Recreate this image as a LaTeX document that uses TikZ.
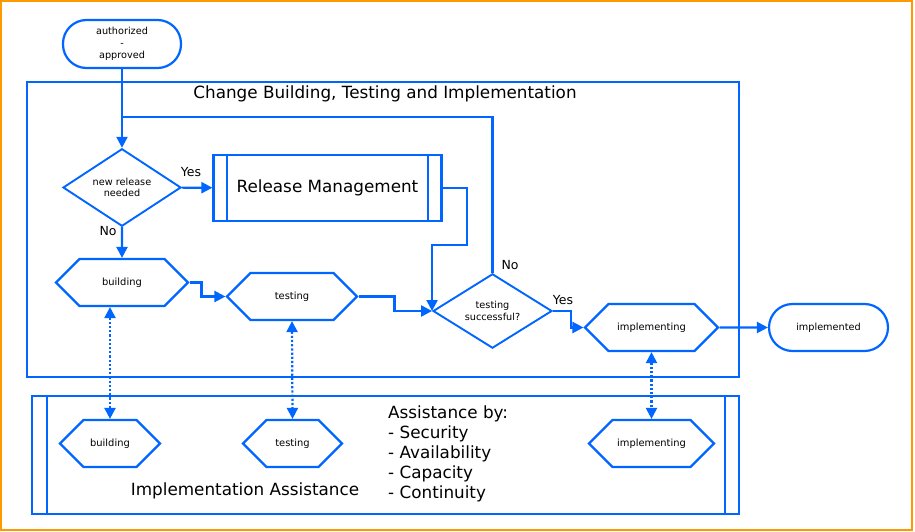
\documentclass[tikz,border=0pt]{standalone}
\usepackage{fontspec}
\setmainfont{DejaVu Sans}
\usetikzlibrary{shapes.geometric, shapes.symbols, positioning, arrows.meta}
\definecolor{FlowBlue}{RGB}{0, 102, 255}
\definecolor{FrameOrange}{RGB}{255, 153, 0}

\tikzset{
  flow/.style={draw=FlowBlue, line width=2.2pt},
  arr/.style={flow, -{Triangle[length=11pt, width=11pt]}},
  assist/.style={flow, dotted, {Triangle[length=11pt, width=11pt]}-{Triangle[length=11pt, width=11pt]}},
  terminal/.style={flow, rectangle, rounded corners=23.5pt, minimum width=118pt, minimum height=48pt,
    inner sep=0pt, align=center, font=\fontsize{9.7}{12}\selectfont},
  decision/.style={flow, line width=1.9pt, diamond, minimum width=118pt, minimum height=69pt,
    inner sep=0pt, align=center, font=\fontsize{9.7}{11.5}\selectfont},
  activity/.style={flow, signal, signal to=east and west, signal pointer angle=90,
    minimum height=47pt, inner sep=0pt, font=\fontsize{9.9}{12}\selectfont},
  answer/.style={font=\fontsize{12.5}{14}\selectfont},
  heading/.style={font=\fontsize{16.8}{20}\selectfont}
}

\begin{document}
\begin{tikzpicture}[x=1pt, y=-1pt]
    \useasboundingbox (0,0) rectangle (915,532);
    \draw[FrameOrange, line width=2pt] (1,1) rectangle (912,530);

    % Rahmen
    \draw[flow] (27,82) rectangle (739,377);
    \node[heading] (title) at (385,94) {Change Building, Testing and Implementation};

    % Start
    \node[terminal] (start) at (122,44) {authorized\\-\\approved};
    \node[decision] (dn) at (122,187.5) {new release\\needed};
    \node[flow, rectangle, minimum width=228pt, minimum height=66pt, heading] (rm) at (327.5,188) {Release Management};
    \draw[flow] ([xshift=14.5pt]rm.north west) -- ([xshift=14.5pt]rm.south west);
    \draw[flow] ([xshift=-14.5pt]rm.north east) -- ([xshift=-14.5pt]rm.south east);

    % Ablauf
    \node[activity, minimum width=132pt] (bld) at (122,282.5) {building};
    \node[activity, minimum width=130pt] (tst) at (292,296.5) {testing};
    \node[decision, minimum width=119pt, minimum height=70pt] (ts) at (492.5,311) {testing\\successful?};
    \node[activity, minimum width=133pt] (impl) at (651.5,327.5) {implementing};
    \node[terminal, minimum width=119pt, minimum height=47pt] (done) at (828.5,327.5) {implemented};

    \coordinate (loopjoin) at (122,117);
    \draw[arr] (start) -- (dn);
    \draw[flow] (ts.north) |- (loopjoin);
    \draw[arr] (dn) -- (rm);
    \draw[arr] (dn) -- (bld);
    \draw[arr] (bld.east) -- ++(12,0) |- (tst.west);
    \draw[arr] (tst.east) -- ++(36,0) |- (ts.west);
    \draw[arr] (rm.east) -- ++(24,0) -- ++(0,57) -| (ts.west);
    \draw[arr] (ts.east) -- ++(18,0) |- (impl.west);
    \draw[arr] (impl) -- (done);

    \node[answer] (yes1) at (191,172) {Yes};
    \node[answer] (no1) at (108,231) {No};
    \node[answer] (no2) at (510,265) {No};
    \node[answer] (yes2) at (563,300) {Yes};

    % Unterstuetzung
    \node[flow, rectangle, minimum width=707pt, minimum height=118pt] (ia) at (385.5,455) {};
    \draw[flow] ([xshift=16pt]ia.north west) -- ([xshift=16pt]ia.south west);
    \draw[flow] ([xshift=-15pt]ia.north east) -- ([xshift=-15pt]ia.south east);
    \node[heading] (iatitle) at (245,491) {Implementation Assistance};
    \node[heading, align=left, anchor=north west, inner sep=0pt] (bylist) at (388,406)
      {Assistance by:\\- Security\\- Availability\\- Capacity\\- Continuity};

    \node[activity, minimum width=100pt] (bbld) at (110,443.5) {building};
    \node[activity, minimum width=99pt] (btst) at (292.5,443.5) {testing};
    \node[activity, minimum width=125pt] (bimpl) at (651.5,443.5) {implementing};

    \draw[assist] (bld.south -| bbld.north) -- (bbld.north);
    \draw[assist] (tst.south) -- (btst.north);
    \draw[assist] (impl.south) -- (bimpl.north);
\end{tikzpicture}
\end{document}
